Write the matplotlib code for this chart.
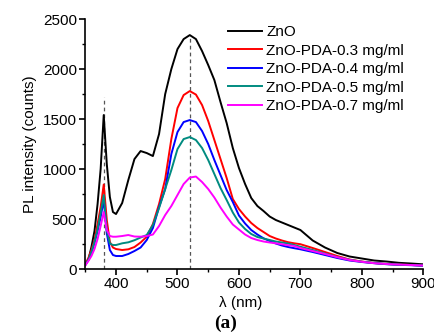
import matplotlib
matplotlib.use("Agg")
import matplotlib.pyplot as plt
import numpy as np

plt.rcParams['font.family'] = ['Liberation Sans', 'DejaVu Sans']

wavelength = [350, 355, 360, 365, 370, 375, 380, 385, 390, 395, 400, 410, 420, 430, 440,
              450, 460, 470, 480, 490, 500, 510, 520, 530, 540, 550, 560, 570, 580, 590,
              600, 610, 620, 630, 640, 650, 660, 670, 680, 690, 700, 720, 740, 760, 780,
              800, 820, 840, 860, 880, 900]

zno = [50, 90, 220, 380, 650, 1000, 1540, 1050, 720, 570, 550, 660, 890, 1100, 1180,
       1160, 1130, 1350, 1750, 2000, 2200, 2300, 2340, 2300, 2180, 2040, 1890, 1670, 1460, 1210,
       1010, 850, 710, 630, 580, 525, 490, 465, 440, 415, 390, 285, 215, 160, 125,
       105, 85, 75, 62, 55, 47]

pda03 = [50, 110, 190, 290, 450, 620, 845, 490, 270, 215, 200, 190, 197, 220, 265,
         323, 450, 650, 900, 1300, 1610, 1740, 1780, 1745, 1640, 1480, 1290, 1100, 910, 700,
         600, 525, 460, 410, 370, 330, 305, 285, 268, 257, 248, 210, 170, 130, 95,
         75, 60, 50, 45, 40, 35]

pda04 = [40, 90, 160, 260, 380, 520, 690, 357, 190, 140, 130, 130, 150, 180, 215,
         290, 410, 620, 800, 1150, 1370, 1470, 1490, 1470, 1380, 1250, 1090, 940, 790, 670,
         535, 455, 390, 345, 307, 280, 255, 235, 220, 208, 197, 170, 140, 110, 85,
         70, 58, 48, 42, 38, 33]

pda05 = [40, 90, 170, 270, 400, 560, 740, 390, 255, 240, 240, 257, 267, 288, 315,
         340, 440, 610, 800, 990, 1200, 1300, 1320, 1290, 1210, 1090, 950, 810, 690, 565,
         465, 400, 350, 320, 305, 290, 275, 265, 255, 240, 223, 190, 155, 120, 92,
         73, 60, 50, 44, 40, 35]

pda07 = [35, 80, 130, 200, 300, 430, 570, 390, 330, 323, 323, 330, 340, 325, 323,
         330, 345, 430, 540, 630, 740, 850, 915, 925, 870, 800, 715, 615, 525, 445,
         395, 345, 310, 290, 275, 265, 257, 248, 238, 230, 210, 180, 150, 118, 90,
         72, 58, 50, 44, 40, 35]

series = [("ZnO", zno, "#000000"),
          ("ZnO-PDA-0.3 mg/ml", pda03, "#ff0000"),
          ("ZnO-PDA-0.4 mg/ml", pda04, "#0000ff"),
          ("ZnO-PDA-0.5 mg/ml", pda05, "#008b80"),
          ("ZnO-PDA-0.7 mg/ml", pda07, "#ff00ff")]

guide_x = [380, 520]
guide_top = [1725, 2340]

fig = plt.figure(figsize=(4.34, 3.35), dpi=100)
ax = fig.add_axes([0.1965, 0.197, 0.779, 0.746])

for gx, gt in zip(guide_x, guide_top):
    ax.plot([gx, gx], [0, gt], color="#555555", lw=0.9, ls=(0, (3, 2.5)), zorder=1)

for name, vals, col in series:
    ax.plot(wavelength, vals, color=col, lw=1.4, label=name, zorder=2)

ax.set_xlim(350, 900)
ax.set_ylim(0, 2500)
ax.set_xticks([400, 500, 600, 700, 800, 900])
ax.set_xticks(np.arange(350, 901, 50), minor=True)
ax.set_yticks([0, 500, 1000, 1500, 2000, 2500])
ax.set_yticks(np.arange(0, 2501, 250), minor=True)
for s in ["top", "right"]:
    ax.spines[s].set_visible(False)
for s in ["left", "bottom"]:
    ax.spines[s].set_linewidth(1.2)
ax.tick_params(which="major", direction="out", length=4, width=1.2, labelsize=11, pad=2)
ax.tick_params(which="minor", direction="out", length=2.5, width=1.0)

ax.set_ylabel("PL intensity (counts)", fontsize=11)
ax.set_xlabel("λ (nm)", fontsize=11)
ax.xaxis.set_label_coords(0.46, -0.11)
ax.yaxis.set_label_coords(-0.142, 0.5)

leg = ax.legend(loc="upper left", bbox_to_anchor=(228 / 434, 1 - 25 / 335),
                bbox_transform=fig.transFigure, frameon=False, fontsize=11,
                handlelength=2.2, handletextpad=0.3, labelspacing=0.3,
                borderpad=0, borderaxespad=0)

fig.text(226 / 434, 1 - 323 / 335, "(a)", fontsize=14, fontweight="bold",
         family="Liberation Serif", ha="center", va="center")

fig.savefig("out.png", dpi=100)
